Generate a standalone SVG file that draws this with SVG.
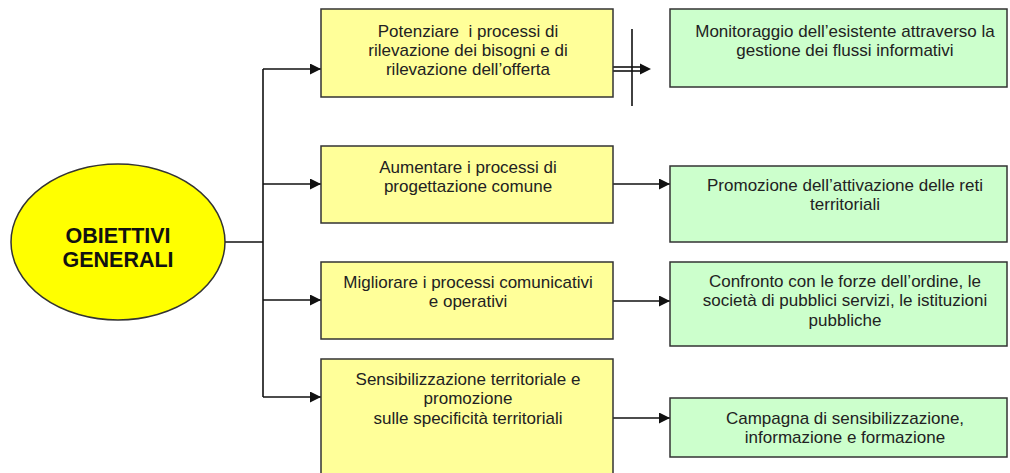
<svg xmlns="http://www.w3.org/2000/svg" width="1010" height="473" viewBox="0 0 1010 473">
<style>
.y{fill:#FFFF99;stroke:#333;stroke-width:1.5}
.g{fill:#CCFFCC;stroke:#333;stroke-width:1.5}
.t{font-family:"Liberation Sans",Arial,sans-serif;font-size:17px;fill:#222;text-anchor:middle}
.c{fill:none;stroke:#111;stroke-width:1.6}
</style>
<defs>
<marker id="ah" markerWidth="11" markerHeight="11" refX="11" refY="5.5" orient="auto" markerUnits="userSpaceOnUse">
<path d="M0,0 L11,5.5 L0,11 Z" fill="#111"/>
</marker>
</defs>
<g id="connectors">
<path class="c" d="M225,242 H263"/>
<path class="c" d="M263,69 V397"/>
<path class="c" d="M263,69 H321" marker-end="url(#ah)"/>
<path class="c" d="M263,184 H321" marker-end="url(#ah)"/>
<path class="c" d="M263,300 H321" marker-end="url(#ah)"/>
<path class="c" d="M263,397 H321" marker-end="url(#ah)"/>
<path class="c" d="M613,67 H642"/>
<path class="c" d="M613,71 H642"/>
<path d="M640,63.5 L651,69 L640,74.5 Z" fill="#111"/>
<path class="c" d="M632,29 V106"/>
<path class="c" d="M613,184 H670" marker-end="url(#ah)"/>
<path class="c" d="M613,301 H670" marker-end="url(#ah)"/>
<path class="c" d="M613,418 H670" marker-end="url(#ah)"/>
</g>
<g id="obiettivi">
<ellipse cx="118" cy="242" rx="107" ry="78" fill="#FFFF00" stroke="#333" stroke-width="1.5"/>
<text x="118" y="243" font-family="Liberation Sans,Arial,sans-serif" font-size="21.5" font-weight="bold" text-anchor="middle" fill="#111">OBIETTIVI</text>
<text x="118" y="267" font-family="Liberation Sans,Arial,sans-serif" font-size="21.5" font-weight="bold" text-anchor="middle" fill="#111">GENERALI</text>
</g>
<g id="y1">
<rect class="y" x="321" y="9" width="292" height="88"/>
<text class="t" x="468" y="36.5" xml:space="preserve" style="white-space:pre">Potenziare  i processi di</text>
<text class="t" x="468" y="55.5">rilevazione dei bisogni e di</text>
<text class="t" x="468" y="74.5">rilevazione dell’offerta</text>
</g>
<g id="y2">
<rect class="y" x="321" y="146" width="292" height="77"/>
<text class="t" x="468" y="172.5">Aumentare i processi di</text>
<text class="t" x="468" y="191.5">progettazione comune</text>
</g>
<g id="y3">
<rect class="y" x="321" y="262" width="292" height="77"/>
<text class="t" x="468" y="288">Migliorare i processi comunicativi</text>
<text class="t" x="468" y="307">e operativi</text>
</g>
<g id="y4">
<rect class="y" x="321" y="359" width="292" height="120"/>
<text class="t" x="468" y="385">Sensibilizzazione territoriale e</text>
<text class="t" x="468" y="404">promozione</text>
<text class="t" x="468" y="423.5">sulle specificità territoriali</text>
</g>
<g id="g1">
<rect class="g" x="670" y="9" width="337" height="78"/>
<text class="t" x="845" y="36.5">Monitoraggio dell’esistente attraverso la</text>
<text class="t" x="845" y="55.5">gestione dei flussi informativi</text>
</g>
<g id="g2">
<rect class="g" x="670" y="166" width="337" height="76"/>
<text class="t" x="845" y="191">Promozione dell’attivazione delle reti</text>
<text class="t" x="845" y="210">territoriali</text>
</g>
<g id="g3">
<rect class="g" x="670" y="262" width="337" height="84"/>
<text class="t" x="845" y="287">Confronto con le forze dell’ordine, le</text>
<text class="t" x="845" y="306">società di pubblici servizi, le istituzioni</text>
<text class="t" x="845" y="325.5">pubbliche</text>
</g>
<g id="g4">
<rect class="g" x="670" y="398" width="337" height="59"/>
<text class="t" x="845" y="423.5">Campagna di sensibilizzazione,</text>
<text class="t" x="845" y="442.5">informazione e formazione</text>
</g>
</svg>
